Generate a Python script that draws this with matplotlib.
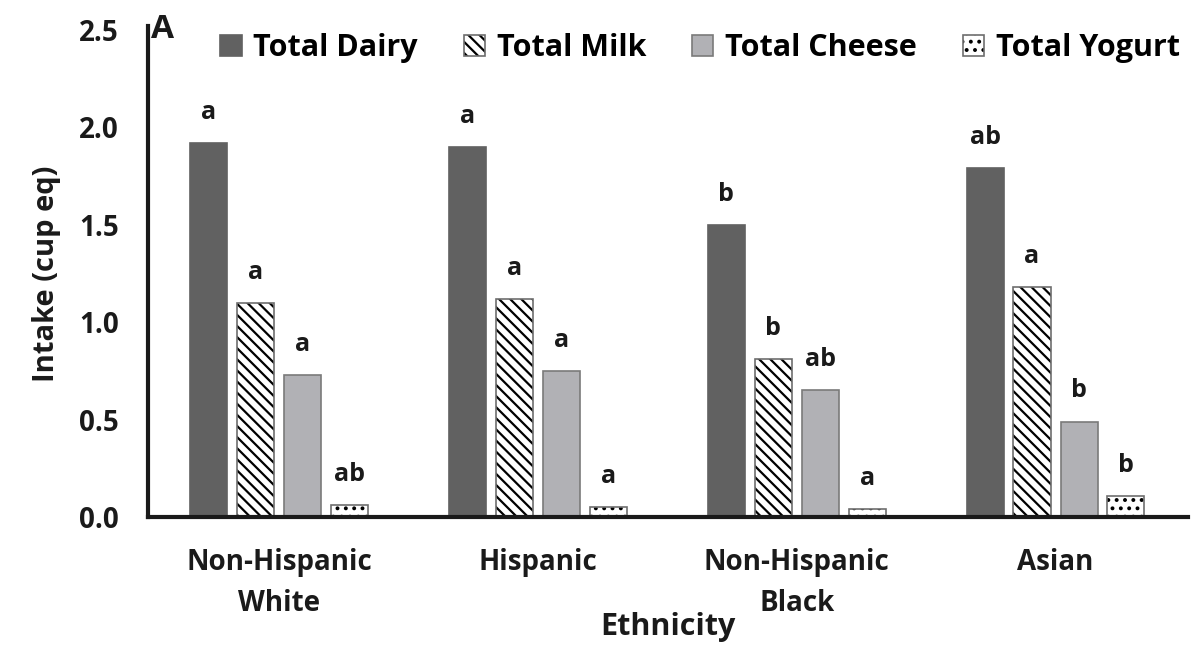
import matplotlib.pyplot as plt
import numpy as np

# ----------- data -----------------------------------
ethnicities = ["Non-Hispanic\nWhite", "Hispanic", "Non-Hispanic\nBlack", "Asian"]
series_names = ["Total Dairy", "Total Milk", "Total Cheese", "Total Yogurt"]

dairy = [1.92, 1.90, 1.50, 1.79]
milk = [1.10, 1.12, 0.81, 1.18]
cheese = [0.73, 0.75, 0.65, 0.49]
yogurt = [0.06, 0.05, 0.04, 0.11]

dairy_letters = ["a", "a", "b", "ab"]
milk_letters = ["a", "a", "b", "a"]
cheese_letters = ["a", "a", "ab", "b"]
yogurt_letters = ["ab", "a", "a", "b"]

y_ticks = [0.0, 0.5, 1.0, 1.5, 2.0, 2.5]

# ----------- styling ------------
plt.rcParams['font.family'] = ['Open Sans', 'DejaVu Sans']
plt.rcParams['font.weight'] = 'bold'
plt.rcParams['hatch.linewidth'] = 1.6

fig = plt.figure(figsize=(11.95, 6.46), dpi=100)
ax = fig.add_axes([0.1238, 0.1997, 0.870, 0.7539])

x = np.arange(len(ethnicities))
width = 0.143
offsets = [-0.272, -0.091, 0.091, 0.272]

styles = [
    dict(color='#616161', edgecolor='#616161', hatch=None),
    dict(color='white', edgecolor='#6e6e6e', hatch='\\\\\\'),
    dict(color='#b1b1b5', edgecolor='#7a7a7a', hatch=None),
    dict(color='white', edgecolor='#6e6e6e', hatch='..'),
]
values = [dairy, milk, cheese, yogurt]
letters = [dairy_letters, milk_letters, cheese_letters, yogurt_letters]

for vals, lets, off, st, name in zip(values, letters, offsets, styles, series_names):
    bars = ax.bar(x + off, vals, width=width, color=st['color'], edgecolor=st['edgecolor'],
                  hatch=st['hatch'], linewidth=1.2, label=name, zorder=2)
    if st['hatch']:
        for b in bars:
            b._hatch_color = (0, 0, 0, 1)
    for xi, v, t in zip(x + off, vals, lets):
        ax.annotate(t, (xi, v), xytext=(0, 13), textcoords='offset points',
                    ha='center', va='bottom', fontsize=18, fontweight='bold', color='#1a1a1a')

ax.set_xlim(-0.506, 3.51)
ax.set_ylim(0, 2.5)
ax.set_yticks(y_ticks)
ax.set_yticklabels([f"{t:.1f}" for t in y_ticks], fontsize=20, fontweight='bold', color='#1a1a1a')
ax.set_xticks(x)
ax.set_xticklabels(ethnicities, fontsize=20, fontweight='bold', color='#1a1a1a', linespacing=1.55,
                   va='top')
ax.tick_params(axis='y', length=0, pad=21)
ax.tick_params(axis='x', length=0, pad=22)

for side in ['top', 'right']:
    ax.spines[side].set_visible(False)
for side in ['left', 'bottom']:
    ax.spines[side].set_linewidth(3)
    ax.spines[side].set_color('#1a1a1a')
ax.spines['left'].set_bounds(0, 2.52)

ax.set_ylabel("Intake (cup eq)", fontsize=21, fontweight='bold', color='#1a1a1a', labelpad=13)
ax.set_xlabel("Ethnicity", fontsize=22, fontweight='bold', color='#1a1a1a', labelpad=-4)

ax.text(0.003, 1.0, "A", transform=ax.transAxes, fontsize=24, fontweight='bold',
        ha='left', va='center', color='#1a1a1a')

leg = ax.legend(loc='center', bbox_to_anchor=(0.531, 0.963), ncol=4, frameon=False,
                handlelength=0.7, handleheight=0.7, handletextpad=0.38,
                columnspacing=1.5, borderaxespad=0, borderpad=0,
                prop={'weight': 'bold', 'size': 22})

fig.savefig("out.png", dpi=100)
